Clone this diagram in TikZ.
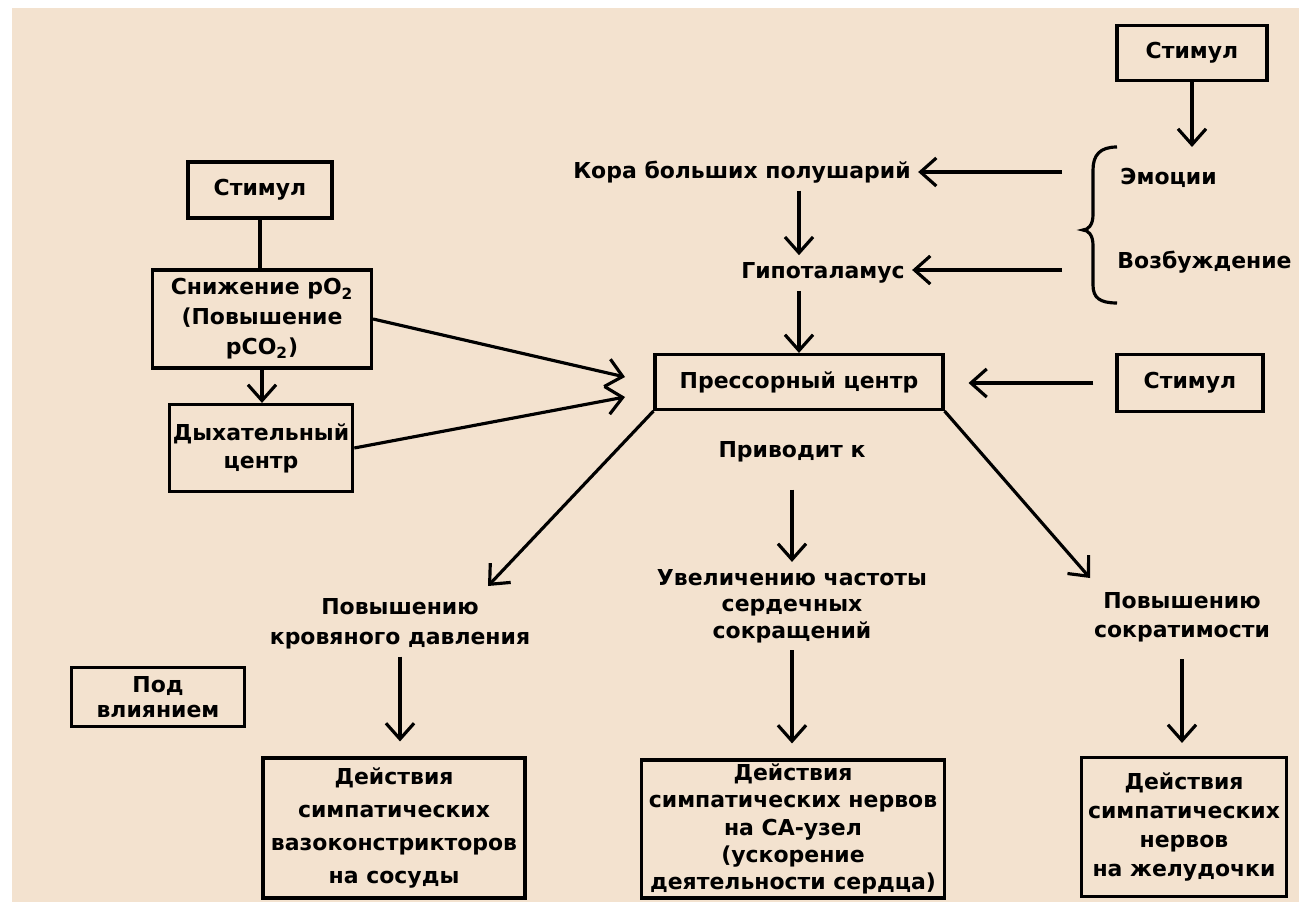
\documentclass[tikz,border=0pt]{standalone}
\usepackage{fontspec}
\setmainfont{DejaVu Sans}
\usetikzlibrary{arrows.meta, positioning, calc}
\definecolor{paper}{RGB}{243,226,207}

\begin{document}
\begin{tikzpicture}[
    x=0.02cm, y=-0.02cm, % one unit is one pixel of the scan, y runs down
    >={Straight Barb[length=9pt,width=16pt]}, % open arrow tips
    line width=1.8pt,
    txt/.style={font=\bfseries\fontsize{12.5}{16}\selectfont, align=center},
    lead/.style={font=\bfseries\fontsize{12.5}{#1}\selectfont}, % line spacing per block
    box/.style={txt, draw, inner sep=2pt}
]

    % paper with the white scan margin
    \fill[white] (0,0) rectangle (1299,902);
    \fill[paper] (12,8) rectangle (1299,902);
    \useasboundingbox (0,0) rectangle (1299,902);

    % right column: stimuli and emotions
    \node[box, minimum width=3cm, minimum height=1.1cm] (stimTop) at (1192,53) {Стимул};
    \node[box, minimum width=2.92cm, minimum height=1.14cm] (stimRight) at (1190,383) {Стимул};
    \node[txt, anchor=west] (emo) at (1113,178) {Эмоции};
    \node[txt, anchor=west] (vozb) at (1110,262) {Возбуждение};

    % centre column
    \node[txt] (kora) at (742,172) {Кора больших полушарий};
    \node[txt] (hypo) at (823,273) {Гипоталамус};
    \node[box, minimum width=5.76cm, minimum height=1.1cm] (pressor) at (799,382) {Прессорный центр};
    \node[txt] (privod) at (792,452) {Приводит к};

    % left column
    \node[box, minimum width=2.88cm, minimum height=1.12cm] (stimLeft) at (260,190) {Стимул};
    \node[box, lead=17, minimum width=4.38cm, minimum height=1.96cm] (snizh) at (262,319)
        {Снижение pO\textsubscript{2}\\(Повышение\\pCO\textsubscript{2})};
    \node[box, lead=16, minimum width=3.64cm, minimum height=1.74cm] (dyh) at (261,448) {Дыхательный\\центр};
    \node[box, lead=14, minimum width=3.46cm, minimum height=1.18cm] (pod) at (158,697) {Под\\влиянием};

    % what the centre leads to
    \node[txt, lead=17] (krov) at (400,624) {Повышению\\кровяного давления};
    \node[txt, lead=15] (uvel) at (792,606) {Увеличению частоты\\сердечных\\сокращений};
    \node[txt, lead=16.5] (sokr) at (1182,617) {Повышению\\сократимости};

    % effector boxes at the bottom
    \node[box, lead=18.7, minimum width=5.24cm, minimum height=2.8cm] (actL) at (394,828)
        {Действия\\симпатических\\вазоконстрикторов\\на сосуды};
    \node[box, lead=15.5, minimum width=6.06cm, minimum height=2.76cm] (actM) at (793,829)
        {Действия\\симпатических нервов\\на СА-узел\\(ускорение\\деятельности сердца)};
    \node[box, lead=16.5, minimum width=4.1cm, minimum height=2.78cm] (actR) at (1184,827)
        {Действия\\симпатических\\нервов\\на желудочки};

    % free ends of the connectors
    \coordinate (emoTip) at (1192,147);
    \coordinate (emoOut) at (1062,172);
    \coordinate (vozbOut) at (1062,270);
    \coordinate (pIn1) at (625,377);
    \coordinate (pIn2) at (625,397);
    \coordinate (krovTip) at (488,586);
    \coordinate (sokrTip) at (1090,578);

    % curly brace round the two emotions
    \draw (1117,147) .. controls (1100,147) and (1093,155) .. (1093,170) -- (1093,215)
        .. controls (1093,225) and (1088,230) .. (1083,230)
        .. controls (1088,230) and (1093,235) .. (1093,245) -- (1093,285)
        .. controls (1093,298) and (1100,303) .. (1117,303);

    % connectors
    \draw[->] (stimTop) -- (emoTip);
    \draw[->] (emoOut) -- (emoOut -| kora.east);
    \draw[->] (vozbOut) -- (vozbOut -| hypo.east);
    \draw[->] (kora.south -| pressor.north) -- (hypo.north -| pressor.north);
    \draw[->] (hypo.south -| pressor.north) -- (pressor.north);
    \draw[->, shorten <=0.44cm, shorten >=0.48cm] (stimRight.west) -- (stimRight.west -| pressor.east);

    \draw (stimLeft) -- (stimLeft |- snizh.north);
    \draw[->] (snizh) -- (snizh |- dyh.north);
    \draw[->] (snizh.east) -- (pIn1);
    \draw[->] (dyh.east) -- (pIn2);

    \draw[->] (pressor.south west) -- (krovTip);
    \draw[->] (pressor.south east) -- (sokrTip);
    \draw[->, shorten <=0.4cm] (privod) -- (uvel);

    \draw[->, shorten >=0.3cm] (krov.south) -- (krov.south |- actL.north);
    \draw[->, shorten >=0.3cm] (uvel.south) -- (uvel.south |- actM.north);
    \draw[->, shorten <=0.2cm, shorten >=0.26cm] (sokr.south) -- (sokr.south |- actR.north);

\end{tikzpicture}
\end{document}
